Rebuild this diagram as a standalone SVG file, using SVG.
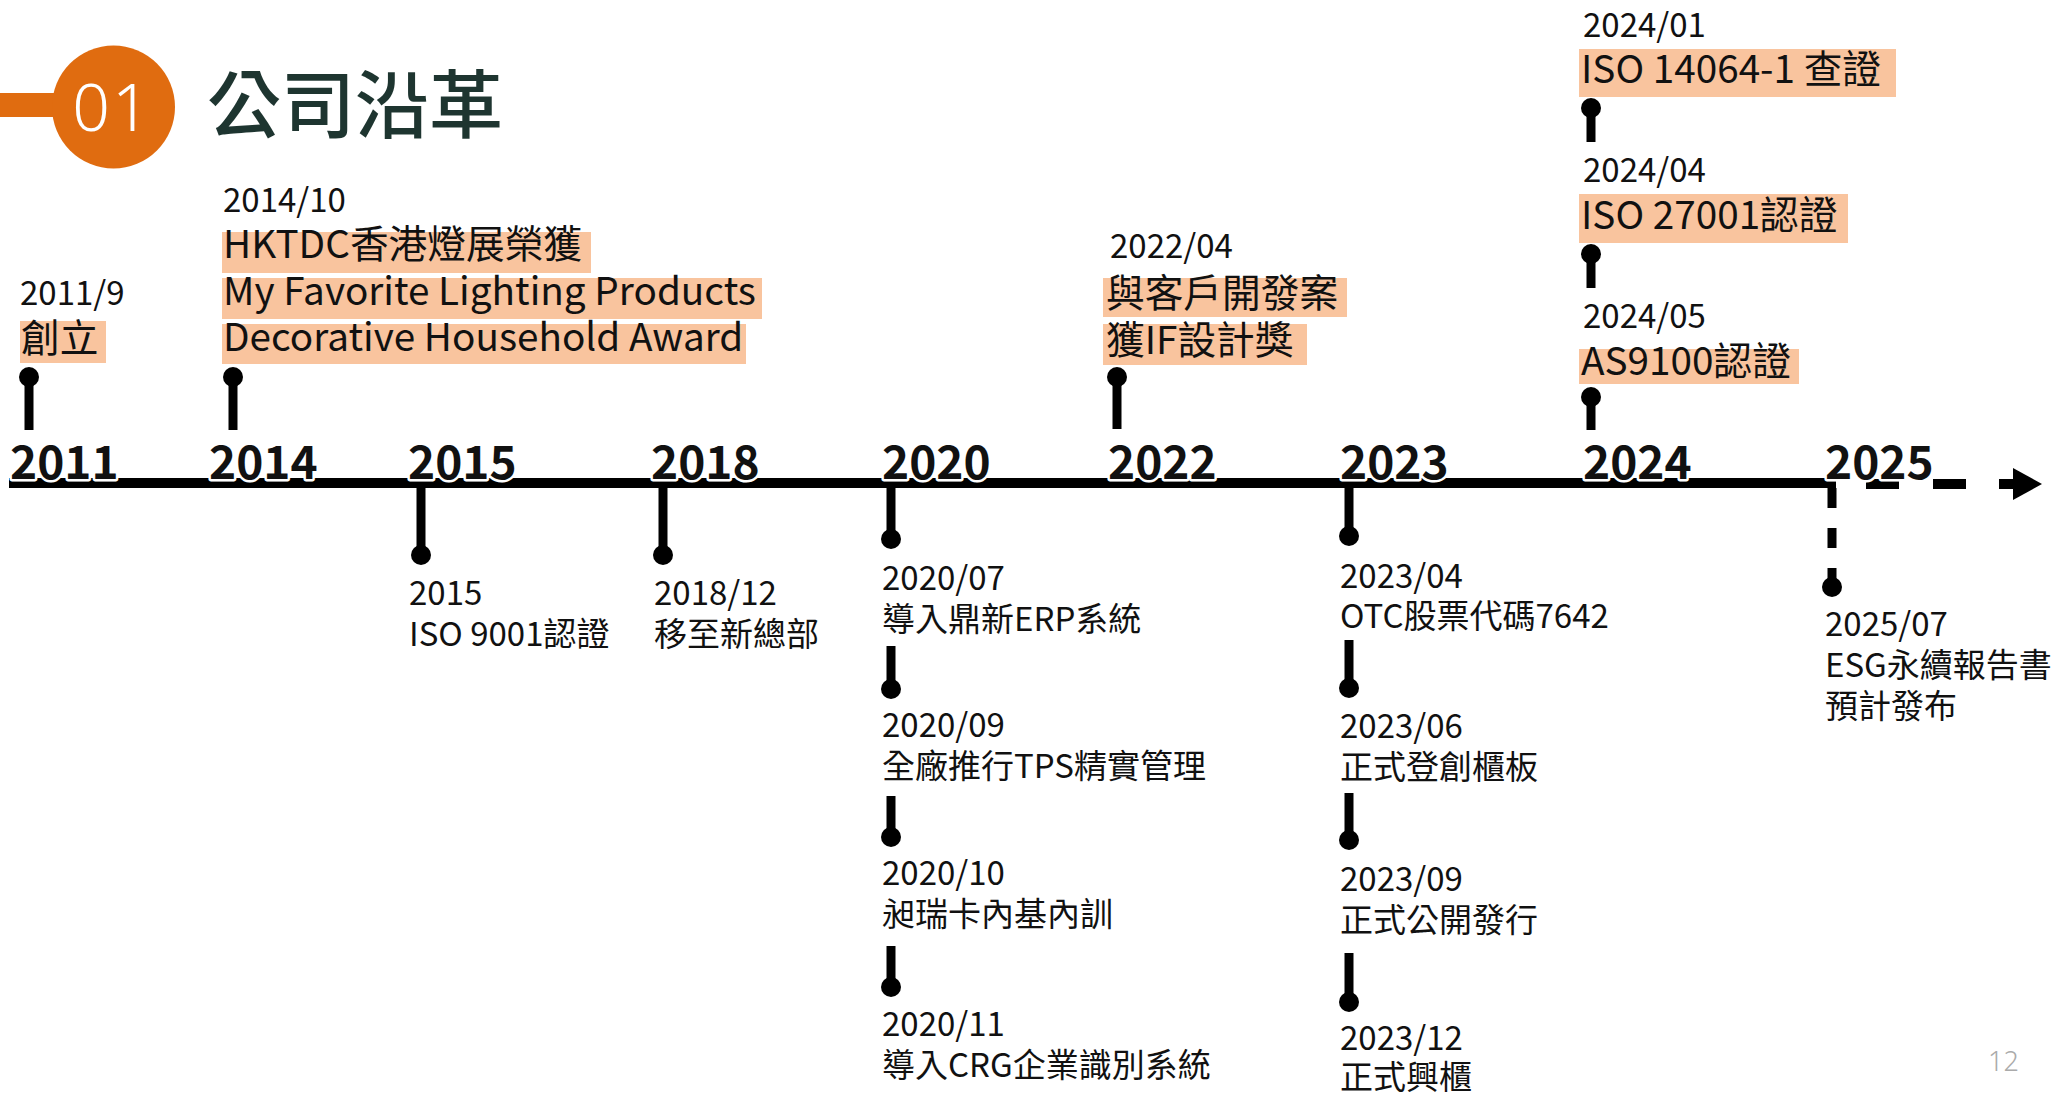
<svg xmlns="http://www.w3.org/2000/svg" width="2051" height="1095" viewBox="0 0 2051 1095">
<style>
  text { font-family: "Noto Sans CJK TC", "Noto Sans", sans-serif; fill: #111; }
  .date { font-size: 33px; }
  .desc { font-size: 33px; }
  .hl-t { font-size: 38.7px; }
  .hl { fill: #F9C49E; }
  .year { font-size: 46px; font-weight: 700; stroke: #fff; stroke-width: 5px; paint-order: stroke; stroke-linejoin: round; }
  .stem { stroke: #000; stroke-width: 9; fill: none; }
  .dot { fill: #000; }
  .axis { stroke: #000; stroke-width: 10; fill: none; }
</style>
<rect width="2051" height="1095" fill="#fff"/>

<g id="header">
  <rect x="0" y="93" width="60" height="24" fill="#E06C10"/>
  <circle cx="113.5" cy="107" r="61.5" fill="#E06C10"/>
  <text x="112" y="131" text-anchor="middle" style="font-family:'Noto Sans','Open Sans',sans-serif;font-size:66px;font-weight:300;fill:#fff;letter-spacing:2px">01</text>
  <text x="207" y="132" style="font-size:74px;font-weight:500;fill:#1E3530">公司沿革</text>
</g>

<g id="connectors">
  <line class="axis" x1="9" y1="483" x2="1836" y2="483"/>
  <line class="axis" x1="1866" y1="484" x2="1899" y2="484"/>
  <line class="axis" x1="1933" y1="484" x2="1966" y2="484"/>
  <line class="axis" x1="1999" y1="484" x2="2016" y2="484"/>
  <polygon points="2013,468 2042,484 2013,500" fill="#000"/>
  <line class="stem" x1="1832" y1="488" x2="1832" y2="580" stroke-dasharray="20 20"/>
</g>

<g id="years">
  <text class="year" x="10" y="479">2011</text>
  <text class="year" x="209" y="479">2014</text>
  <text class="year" x="408" y="479">2015</text>
  <text class="year" x="651" y="479">2018</text>
  <text class="year" x="882" y="479">2020</text>
  <text class="year" x="1108" y="479">2022</text>
  <text class="year" x="1340" y="479">2023</text>
  <text class="year" x="1583" y="479">2024</text>
  <text class="year" x="1825" y="479">2025</text>
</g>

<g id="e2011-9">
  <line class="stem" x1="29" y1="377" x2="29" y2="430"/>
  <circle class="dot" cx="29" cy="377" r="10"/>
  <text class="date" x="20" y="305">2011/9</text>
  <rect class="hl" x="20" y="321" width="86" height="42"/>
  <text class="hl-t" x="21" y="352">創立</text>
</g>

<g id="e2014-10">
  <line class="stem" x1="233" y1="377" x2="233" y2="430"/>
  <circle class="dot" cx="233" cy="377" r="10"/>
  <text class="date" x="223" y="212">2014/10</text>
  <rect class="hl" x="222" y="232" width="369" height="41"/>
  <rect class="hl" x="222" y="278" width="540" height="41"/>
  <rect class="hl" x="222" y="324" width="524" height="40"/>
  <text class="hl-t" x="223" y="258">HKTDC香港燈展榮獲</text>
  <text class="hl-t" x="223" y="305">My Favorite Lighting Products</text>
  <text class="hl-t" x="223" y="351">Decorative Household Award</text>
</g>

<g id="e2015">
  <line class="stem" x1="421" y1="483" x2="421" y2="555"/>
  <circle class="dot" cx="421" cy="555" r="10"/>
  <text class="date" x="409" y="605">2015</text>
  <text class="desc" x="409" y="646">ISO 9001認證</text>
</g>

<g id="e2018-12">
  <line class="stem" x1="663" y1="483" x2="663" y2="555"/>
  <circle class="dot" cx="663" cy="555" r="10"/>
  <text class="date" x="654" y="605">2018/12</text>
  <text class="desc" x="654" y="646">移至新總部</text>
</g>

<g id="e2020-07">
  <line class="stem" x1="891" y1="483" x2="891" y2="539"/>
  <circle class="dot" cx="891" cy="539" r="10"/>
  <text class="date" x="882" y="590">2020/07</text>
  <text class="desc" x="882" y="631">導入鼎新ERP系統</text>
</g>
<g id="e2020-09">
  <line class="stem" x1="891" y1="646" x2="891" y2="689"/>
  <circle class="dot" cx="891" cy="689" r="10"/>
  <text class="date" x="882" y="737">2020/09</text>
  <text class="desc" x="882" y="778">全廠推行TPS精實管理</text>
</g>
<g id="e2020-10">
  <line class="stem" x1="891" y1="796" x2="891" y2="837"/>
  <circle class="dot" cx="891" cy="837" r="10"/>
  <text class="date" x="882" y="885">2020/10</text>
  <text class="desc" x="882" y="926">昶瑞卡內基內訓</text>
</g>
<g id="e2020-11">
  <line class="stem" x1="891" y1="946" x2="891" y2="987"/>
  <circle class="dot" cx="891" cy="987" r="10"/>
  <text class="date" x="882" y="1036">2020/11</text>
  <text class="desc" x="882" y="1077">導入CRG企業識別系統</text>
</g>

<g id="e2022-04">
  <line class="stem" x1="1117" y1="377" x2="1117" y2="429"/>
  <circle class="dot" cx="1117" cy="377" r="10"/>
  <text class="date" x="1110" y="258">2022/04</text>
  <rect class="hl" x="1103" y="278" width="244" height="39"/>
  <rect class="hl" x="1103" y="324" width="204" height="41"/>
  <text class="hl-t" x="1106" y="307">與客戶開發案</text>
  <text class="hl-t" x="1106" y="354">獲IF設計獎</text>
</g>

<g id="e2023-04">
  <line class="stem" x1="1349" y1="483" x2="1349" y2="536"/>
  <circle class="dot" cx="1349" cy="536" r="10"/>
  <text class="date" x="1340" y="588">2023/04</text>
  <text class="desc" x="1340" y="628">OTC股票代碼7642</text>
</g>
<g id="e2023-06">
  <line class="stem" x1="1349" y1="640" x2="1349" y2="688"/>
  <circle class="dot" cx="1349" cy="688" r="10"/>
  <text class="date" x="1340" y="738">2023/06</text>
  <text class="desc" x="1340" y="779">正式登創櫃板</text>
</g>
<g id="e2023-09">
  <line class="stem" x1="1349" y1="793" x2="1349" y2="840"/>
  <circle class="dot" cx="1349" cy="840" r="10"/>
  <text class="date" x="1340" y="891">2023/09</text>
  <text class="desc" x="1340" y="932">正式公開發行</text>
</g>
<g id="e2023-12">
  <line class="stem" x1="1349" y1="953" x2="1349" y2="1002"/>
  <circle class="dot" cx="1349" cy="1002" r="10"/>
  <text class="date" x="1340" y="1050">2023/12</text>
  <text class="desc" x="1340" y="1089">正式興櫃</text>
</g>

<g id="e2024-01">
  <line class="stem" x1="1591" y1="108" x2="1591" y2="142"/>
  <circle class="dot" cx="1591" cy="108" r="10"/>
  <text class="date" x="1583" y="37">2024/01</text>
  <rect class="hl" x="1579" y="49" width="317" height="48"/>
  <text class="hl-t" x="1581" y="83">ISO 14064-1 查證</text>
</g>
<g id="e2024-04">
  <line class="stem" x1="1591" y1="254" x2="1591" y2="288"/>
  <circle class="dot" cx="1591" cy="254" r="10"/>
  <text class="date" x="1583" y="182">2024/04</text>
  <rect class="hl" x="1579" y="194" width="269" height="49"/>
  <text class="hl-t" x="1581" y="229">ISO 27001認證</text>
</g>
<g id="e2024-05">
  <line class="stem" x1="1591" y1="397" x2="1591" y2="430"/>
  <circle class="dot" cx="1591" cy="397" r="10"/>
  <text class="date" x="1583" y="328">2024/05</text>
  <rect class="hl" x="1579" y="349" width="220" height="35"/>
  <text class="hl-t" x="1581" y="375">AS9100認證</text>
</g>

<g id="e2025-07">
  <circle class="dot" cx="1832" cy="587" r="10"/>
  <text class="date" x="1825" y="636">2025/07</text>
  <text class="desc" x="1825" y="677">ESG永續報告書</text>
  <text class="desc" x="1825" y="718">預計發布</text>
</g>

<text x="1988" y="1071" style="font-family:'Noto Sans',sans-serif;font-size:27px;font-weight:300;fill:#AAAAAA">12</text>
</svg>
